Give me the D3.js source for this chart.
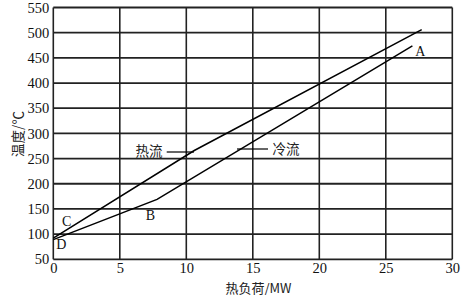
<!DOCTYPE html>
<html><head><meta charset="utf-8">
<script src="https://cdn.jsdelivr.net/npm/d3@7"></script>
<style>body{margin:0;background:#fff}svg{display:block}</style>
</head><body>
<script>
const xTicks = [0,5,10,15,20,25,30];
const yTicks = [50,100,150,200,250,300,350,400,450,500,550];
const hotX = [0, 10.6, 27.7];
const hotY = [92, 266, 506];
const coldX = [0, 7.8, 27.0];
const coldY = [89, 169, 474];
const pointLabels = ["A","B","C","D"];
const pointX = [27.6, 7.3, 1.0, 0.6];
const pointY = [462, 137, 126, 80];
const streamNames = ["热流","冷流"];

const W=474,H=295, m={l:53.3,t:7.5,r:21.7,b:35.7};
const svg=d3.select("body").append("svg").attr("width",W).attr("height",H);
const x=d3.scaleLinear().domain([0,30]).range([m.l,W-m.r]);
const y=d3.scaleLinear().domain([50,550]).range([H-m.b,m.t]);
const serif="'Liberation Serif','Times New Roman',serif";
const cjk="'Noto Sans CJK SC',sans-serif";

// grid
const g=svg.append("g");
g.selectAll("line.h").data(yTicks).join("line")
 .attr("x1",x(0)).attr("x2",x(30)).attr("y1",d=>y(d)).attr("y2",d=>y(d))
 .attr("stroke","#222").attr("stroke-width",1.8);
g.selectAll("line.v").data(xTicks).join("line")
 .attr("y1",y(50)).attr("y2",y(550)).attr("x1",d=>x(d)).attr("x2",d=>x(d))
 .attr("stroke","#222").attr("stroke-width",1.6);

// axes
const xa=svg.append("g").attr("transform",`translate(0,${y(50)})`)
 .call(d3.axisBottom(x).tickValues(xTicks).tickSize(0).tickPadding(3));
const ya=svg.append("g").attr("transform",`translate(${x(0)},0)`)
 .call(d3.axisLeft(y).tickValues(yTicks).tickSize(0).tickPadding(4));
[xa,ya].forEach(a=>{a.select(".domain").remove();
 a.selectAll("text").attr("font-family",serif).attr("font-size",14.5).attr("fill","#111");});

// lines
const line=d3.line().x(d=>x(d[0])).y(d=>y(d[1]));
const hot=hotX.map((v,i)=>[v,hotY[i]]);
const cold=coldX.map((v,i)=>[v,coldY[i]]);
svg.append("path").attr("d",line(hot)).attr("fill","none").attr("stroke","#000").attr("stroke-width",1.5);
svg.append("path").attr("d",line(cold)).attr("fill","none").attr("stroke","#000").attr("stroke-width",1.5);

// point labels
svg.selectAll("text.pl").data(pointLabels).join("text")
 .attr("x",(d,i)=>x(pointX[i])).attr("y",(d,i)=>y(pointY[i]))
 .attr("text-anchor","middle").attr("dominant-baseline","central")
 .attr("font-family",serif).attr("font-size",14).attr("fill","#111").text(d=>d);

// stream labels with leaders
svg.append("line").attr("x1",166.7).attr("x2",194).attr("y1",152).attr("y2",152).attr("stroke","#000").attr("stroke-width",1.2);
svg.append("text").attr("x",149).attr("y",150).attr("text-anchor","middle").attr("dominant-baseline","central")
 .attr("font-family",cjk).attr("font-size",13.5).attr("fill","#222").text(streamNames[0]);
svg.append("line").attr("x1",237).attr("x2",268).attr("y1",149).attr("y2",149).attr("stroke","#000").attr("stroke-width",1.2);
svg.append("text").attr("x",286).attr("y",148).attr("text-anchor","middle").attr("dominant-baseline","central")
 .attr("font-family",cjk).attr("font-size",13.5).attr("fill","#222").text(streamNames[1]);

// axis titles
svg.append("text").attr("x",258.5).attr("y",287).attr("text-anchor","middle").attr("dominant-baseline","central")
 .attr("font-family",cjk).attr("font-size",13).attr("fill","#222").text("热负荷/MW");
svg.append("text").attr("transform",`translate(17,134) rotate(-90)`).attr("text-anchor","middle").attr("dominant-baseline","central")
 .attr("font-family",cjk).attr("font-size",13.5).attr("fill","#222").text("温度/℃");
</script>
</body></html>
